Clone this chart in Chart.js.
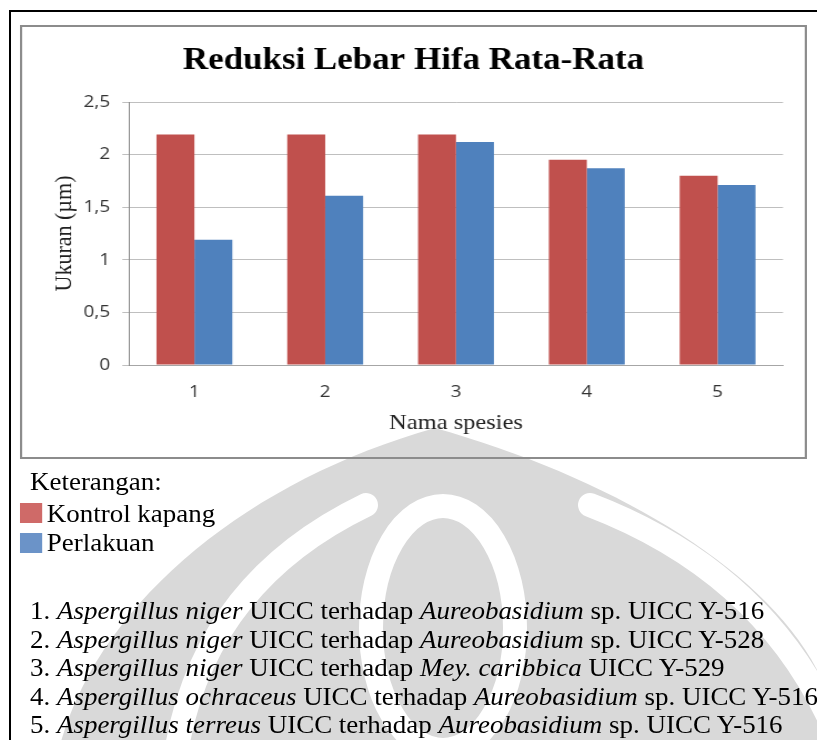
<!DOCTYPE html>
<html>
<head>
<meta charset="utf-8">
<script src="https://cdn.jsdelivr.net/npm/chart.js@4.4.1/dist/chart.umd.min.js"></script>
<style>
  html, body { margin: 0; padding: 0; background: #fff; }
  body { width: 817px; height: 740px; position: relative; overflow: hidden; }
  #wm { position: absolute; left: 0; top: 0; z-index: 0; }
  #frame { position: absolute; left: 9px; top: 10px; width: 820px; height: 740px;
           border-top: 2px solid #000; border-left: 2px solid #000; z-index: 2; }
  #sheet { position: absolute; left: 0; top: 0; width: 736px; height: 740px;
           transform: scaleX(1.11); transform-origin: 0 0; z-index: 1; }
  #box { position: absolute; left: 18px; top: 25px; width: 705px; height: 430px;
         border: 2px solid #8c8c8c; }
  #box canvas { display: block; }
  .note { position: absolute; font-family: "Liberation Serif", "Times New Roman", serif;
          font-size: 24.3px; line-height: 1; color: #000; white-space: nowrap; }
  .sw { position: absolute; width: 19.6px; height: 20px; }
</style>
</head>
<body>
<canvas id="wm" width="817" height="740"></canvas>
<div id="frame"></div>
<div id="sheet">
  <div id="box"><canvas id="chart" width="705" height="430"></canvas></div>

  <div class="note" style="left:27px; top:470px;">Keterangan:</div>
  <div class="sw" style="left:18px; top:502.7px; background:#cf6a68;"></div>
  <div class="note" style="left:42.1px; top:501.6px;">Kontrol kapang</div>
  <div class="sw" style="left:18px; top:532.7px; background:#6b93c8;"></div>
  <div class="note" style="left:42.1px; top:530.6px;">Perlakuan</div>

  <div class="note" style="left:27px; top:599px;">1. <i>Aspergillus niger</i> UICC terhadap <i>Aureobasidium</i> sp. UICC Y-516</div>
  <div class="note" style="left:27px; top:627.5px;">2. <i>Aspergillus niger</i> UICC terhadap <i>Aureobasidium</i> sp. UICC Y-528</div>
  <div class="note" style="left:27px; top:656px;">3. <i>Aspergillus niger</i> UICC terhadap <i>Mey. caribbica</i> UICC Y-529</div>
  <div class="note" style="left:27px; top:684.5px;">4. <i>Aspergillus ochraceus</i> UICC terhadap <i>Aureobasidium</i> sp. UICC Y-516</div>
  <div class="note" style="left:27px; top:713px;">5. <i>Aspergillus terreus</i> UICC terhadap <i>Aureobasidium</i> sp. UICC Y-516</div>
</div>

<script>
// Species pair numbers and mean hyphal width (µm)
const categories = ['1', '2', '3', '4', '5'];
const kontrolKapang = [2.19, 2.19, 2.19, 1.95, 1.80];
const perlakuan = [1.19, 1.61, 2.12, 1.87, 1.71];
const yTickLabels = ['0', '0,5', '1', '1,5', '2', '2,5'];

// Faint emblem printed behind the page
(function drawEmblem() {
  const g = document.getElementById('wm').getContext('2d');
  g.fillStyle = '#d9d9d9';
  g.beginPath();
  g.moveTo(60, 745);
  g.bezierCurveTo(100, 600, 250, 480, 435, 428);
  g.bezierCurveTo(620, 480, 790, 580, 830, 700);
  g.lineTo(830, 745);
  g.closePath();
  g.fill();
  g.strokeStyle = '#fff';
  g.lineWidth = 24;
  g.lineCap = 'round';
  g.beginPath(); g.moveTo(366, 505); g.quadraticCurveTo(200, 585, 175, 760); g.stroke();
  g.beginPath(); g.moveTo(590, 505); g.quadraticCurveTo(760, 570, 830, 720); g.stroke();
  g.beginPath(); g.ellipse(443, 628, 72, 122, 0, 0, Math.PI * 2); g.stroke();
})();

const tickFont = { family: '"Open Sans", sans-serif', size: 17 };
const serif = '"Liberation Serif", "Times New Roman", serif';

new Chart(document.getElementById('chart'), {
  type: 'bar',
  data: {
    labels: categories,
    datasets: [
      { label: 'Kontrol kapang', data: kontrolKapang, backgroundColor: '#C0504D', borderWidth: 0 },
      { label: 'Perlakuan', data: perlakuan, backgroundColor: '#4F81BD', borderWidth: 0 }
    ]
  },
  options: {
    responsive: false,
    animation: false,
    devicePixelRatio: 1,
    layout: { padding: 0 },
    datasets: { bar: { categoryPercentage: 0.58, barPercentage: 1 } },
    plugins: {
      legend: { display: false },
      tooltip: { enabled: false },
      title: {
        display: true,
        text: 'Reduksi Lebar Hifa Rata-Rata',
        color: '#000',
        font: { family: serif, size: 31.5, weight: 'bold', lineHeight: 1.2 },
        padding: { top: 14.7, bottom: 22.5 }
      }
    },
    scales: {
      x: {
        grid: { display: false, drawTicks: false },
        border: { display: true, color: '#a6a6a6', width: 1 },
        ticks: { padding: 17, font: tickFont, color: '#333' },
        title: {
          display: true, text: 'Nama spesies', color: '#222',
          font: { family: serif, size: 22, lineHeight: 1.2 },
          padding: { top: 0, bottom: 20.8 }
        },
        afterFit(scale) { scale.height = 92; }
      },
      y: {
        min: 0, max: 2.5,
        ticks: {
          stepSize: 0.5, padding: 11, font: tickFont, color: '#333',
          callback: (v, i) => yTickLabels[i]
        },
        grid: { color: '#bfbfbf', lineWidth: 1, drawTicks: true, tickLength: 6 },
        border: { display: true, color: '#8c8c8c', width: 1 },
        title: {
          display: true, text: 'Ukuran (µm)', color: '#222',
          font: { family: serif, size: 22, lineHeight: 1.2 },
          padding: { top: 25.4, bottom: 0 }
        },
        afterFit(scale) { scale.width = 96.2; }
      },
      // empty right-hand margin so the plot stops short of the box edge
      yRight: {
        position: 'right',
        display: true,
        grid: { display: false, drawTicks: false },
        border: { display: false },
        ticks: { display: false },
        afterFit(scale) { scale.width = 19.6; }
      }
    }
  }
});
</script>
</body>
</html>
